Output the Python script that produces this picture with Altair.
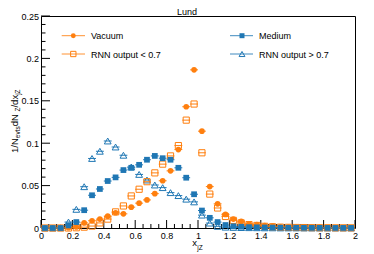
import altair as alt
import pandas as pd

# ---------------- data ----------------
x_centers = [0.025, 0.075, 0.125, 0.175, 0.225, 0.275, 0.325, 0.375, 0.425, 0.475,
             0.525, 0.575, 0.625, 0.675, 0.725, 0.775, 0.825, 0.875, 0.925, 0.975,
             1.025, 1.075, 1.125, 1.175, 1.225, 1.275, 1.325, 1.375, 1.425, 1.475,
             1.525, 1.575, 1.625, 1.675, 1.725, 1.775, 1.825, 1.875, 1.925, 1.975]

vacuum = [0.0, 0.0, 0.0, 0.0003, 0.0012, 0.006, 0.0085, 0.0105, 0.014, 0.018,
          0.0167, 0.0246, 0.0293, 0.0331, 0.0405, 0.0557, 0.0674, 0.0925, 0.143, 0.1865,
          0.1142, 0.0488, 0.0285, 0.016, 0.0105, 0.0078, 0.005, 0.004, 0.003, 0.0023,
          0.0015, 0.001, 0.0008, 0.0006, 0.0005, 0.0004, 0.0003, 0.0003, 0.0002, 0.0002]

medium = [0.0, 0.0, 0.0, 0.003, 0.007, 0.021, 0.0386, 0.046, 0.0554, 0.0597,
          0.0683, 0.071, 0.0745, 0.0805, 0.085, 0.0823, 0.0805, 0.071, 0.0593, 0.0398,
          0.0206, 0.012, 0.007, 0.0035, 0.002, 0.0015, 0.001, 0.0008, 0.0006, 0.0005,
          0.0004, 0.0003, 0.0003, 0.0002, 0.0002, 0.0002, 0.0001, 0.0001, 0.0001, 0.0001]

rnn_low = [0.0, 0.0, 0.0, 0.0, 0.0003, 0.001, 0.0023, 0.006, 0.0105, 0.019,
           0.026, 0.0378, 0.0457, 0.0546, 0.065, 0.0753, 0.085, 0.0972, 0.1272, 0.1462,
           0.0887, 0.040, 0.0236, 0.0136, 0.009, 0.006, 0.004, 0.003, 0.002, 0.0015,
           0.001, 0.0008, 0.0006, 0.0005, 0.0004, 0.0003, 0.0003, 0.0002, 0.0002, 0.0002]

rnn_high = [0.0, 0.0, 0.0003, 0.007, 0.022, 0.0487, 0.082, 0.0905, 0.1026, 0.0955,
            0.0858, 0.072, 0.0632, 0.0566, 0.0507, 0.0476, 0.0417, 0.0382, 0.034, 0.0308,
            0.0152, 0.0058, 0.002, 0.001, 0.0007, 0.0005, 0.0004, 0.0003, 0.0002, 0.0002,
            0.0001, 0.0001, 0.0001, 0.0, 0.0, 0.0, 0.0, 0.0, 0.0, 0.0]

bin_half_width = 0.025

x_major = [0, 0.2, 0.4, 0.6, 0.8, 1.0, 1.2, 1.4, 1.6, 1.8, 2.0]
x_minor = [0.05, 0.1, 0.15, 0.25, 0.3, 0.35, 0.45, 0.5, 0.55, 0.65, 0.7, 0.75,
           0.85, 0.9, 0.95, 1.05, 1.1, 1.15, 1.25, 1.3, 1.35, 1.45, 1.5, 1.55,
           1.65, 1.7, 1.75, 1.85, 1.9, 1.95]
y_major = [0, 0.05, 0.1, 0.15, 0.2, 0.25]
y_minor = [0.01, 0.02, 0.03, 0.04, 0.06, 0.07, 0.08, 0.09, 0.11, 0.12, 0.13, 0.14,
           0.16, 0.17, 0.18, 0.19, 0.21, 0.22, 0.23, 0.24]

ORANGE = "#ff7f0e"
BLUE = "#1f77b4"
FONT = "Liberation Sans"

W, H = 314, 212
TOP = 8  # plot top at page y = 16

series = [
    # name, values, color, shape, filled, size, legend col, legend row
    ("RNN output > 0.7", rnn_high, BLUE, "triangle-up", False, 46, 1, 1),
    ("RNN output < 0.7", rnn_low, ORANGE, "square", False, 38, 0, 1),
    ("Vacuum", vacuum, ORANGE, "circle", True, 32, 0, 0),
    ("Medium", medium, BLUE, "square", True, 33, 1, 0),
]

x_scale = alt.Scale(domain=[0, 2], nice=False, zero=False)
y_scale = alt.Scale(domain=[0, 0.25], nice=False)

x_axis = alt.Axis(values=x_major, format="~g", labelFont=FONT, labelFontSize=9,
                  labelColor="black", domain=False, ticks=False, tickSize=0,
                  grid=False, labelPadding=3, labelBaseline="top", title="",
                  labelFlush=False)
y_axis = alt.Axis(values=y_major, format="~g", labelFont=FONT, labelFontSize=9,
                  labelColor="black", domain=False, ticks=False, tickSize=0,
                  grid=False, labelPadding=2.5, title="", labelFlush=False)

layers = []

# data series
for name, vals, color, shape, filled, size, col, row in series:
    d = pd.DataFrame({"x": x_centers, "y": vals})
    base = alt.Chart(d).transform_calculate(
        xlo=f"datum.x - {bin_half_width}", xhi=f"datum.x + {bin_half_width}")
    err = base.mark_rule(color=color, strokeWidth=1).encode(
        x=alt.X("xlo:Q", scale=x_scale, axis=x_axis),
        x2="xhi:Q",
        y=alt.Y("y:Q", scale=y_scale, axis=y_axis))
    pts = base.mark_point(shape=shape, filled=filled, size=size, color=color,
                          strokeWidth=1, opacity=1).encode(
        x=alt.X("x:Q", scale=x_scale, axis=x_axis),
        y=alt.Y("y:Q", scale=y_scale, axis=y_axis))
    layers += [err, pts]

# tick marks (inside the frame, on left and bottom)
def ticks_layer(vals, axis, length):
    d = pd.DataFrame({"v": vals})
    if axis == "x":
        return alt.Chart(d).mark_rule(color="black", strokeWidth=1).encode(
            x=alt.X("v:Q", scale=x_scale, axis=x_axis),
            y=alt.value(H), y2=alt.value(H - length))
    return alt.Chart(d).mark_rule(color="black", strokeWidth=1).encode(
        y=alt.Y("v:Q", scale=y_scale, axis=y_axis),
        x=alt.value(0), x2=alt.value(length))

layers = [ticks_layer(x_major, "x", 8), ticks_layer(x_minor, "x", 4),
          ticks_layer(y_major, "y", 9), ticks_layer(y_minor, "y", 4.5)] + layers

# legend (manual, ROOT style)
one = pd.DataFrame({"a": [0]})
leg_cols = [(20.7, 44.0, 32.3, 50.0), (189.0, 212.0, 201.0, 218.0)]
leg_rows = [19.7, 38.0]
for name, vals, color, shape, filled, size, col, row in series:
    lx0, lx1, mx, tx = leg_cols[col]
    ly = leg_rows[row]
    layers.append(alt.Chart(one).mark_rule(color=color, strokeWidth=1, opacity=0.85).encode(
        x=alt.value(lx0), x2=alt.value(lx1), y=alt.value(ly)))
    layers.append(alt.Chart(one).mark_point(shape=shape, filled=filled, size=size * 0.75,
                                            color=color, strokeWidth=1, opacity=1).encode(
        x=alt.value(mx), y=alt.value(ly)))
    layers.append(alt.Chart(one).mark_text(align="left", baseline="middle", font=FONT,
                                           fontSize=9, color="black").encode(
        x=alt.value(tx), y=alt.value(ly + 0.5), text=alt.value(name)))

# title
layers.append(alt.Chart(one).mark_text(align="center", baseline="alphabetic", font=FONT,
                                       fontSize=9, color="black").encode(
    x=alt.value(146), y=alt.value(-1.5), text=alt.value("Lund")))

# axis titles with sub-scripts
arial = {'1': 556, '/': 278, 'N': 722, 'e': 556, 'v': 500, 't': 278, 's': 500,
         ' ': 278, 'd': 556, 'Z': 611, 'x': 500, 'j': 222}

def text_w(s, fs):
    return sum(arial[c] for c in s) / 1000.0 * fs

ytitle_parts = [("1/N", 9.5, 0.0), ("evts", 6.5, 2.5), (" dN", 9.5, 0.0),
                ("Z", 6.5, 2.5), ("/dx", 9.5, 0.0), ("jZ", 6.5, 2.5)]
ypos = 137.0
for txt, fs, shift in ytitle_parts:
    layers.append(alt.Chart(one).mark_text(align="left", baseline="alphabetic", angle=270,
                                           font=FONT, fontSize=fs, color="black").encode(
        x=alt.value(-23.5 + shift), y=alt.value(ypos), text=alt.value(txt)))
    ypos -= text_w(txt, fs)

layers.append(alt.Chart(one).mark_text(align="left", baseline="alphabetic", font=FONT,
                                       fontSize=9.5, color="black").encode(
    x=alt.value(151.3), y=alt.value(230), text=alt.value("x")))
layers.append(alt.Chart(one).mark_text(align="left", baseline="alphabetic", font=FONT,
                                       fontSize=6.5, color="black").encode(
    x=alt.value(156.2), y=alt.value(233.5), text=alt.value("jZ")))

chart = alt.layer(*layers).properties(
    width=W, height=H,
    autosize=alt.AutoSizeParams(type="none"),
    padding={"left": 33, "top": TOP, "right": 10, "bottom": 26},
    background="white",
).configure_view(stroke="black", strokeWidth=1)

chart.save("out.html", embed_options={"renderer": "svg", "actions": False})
